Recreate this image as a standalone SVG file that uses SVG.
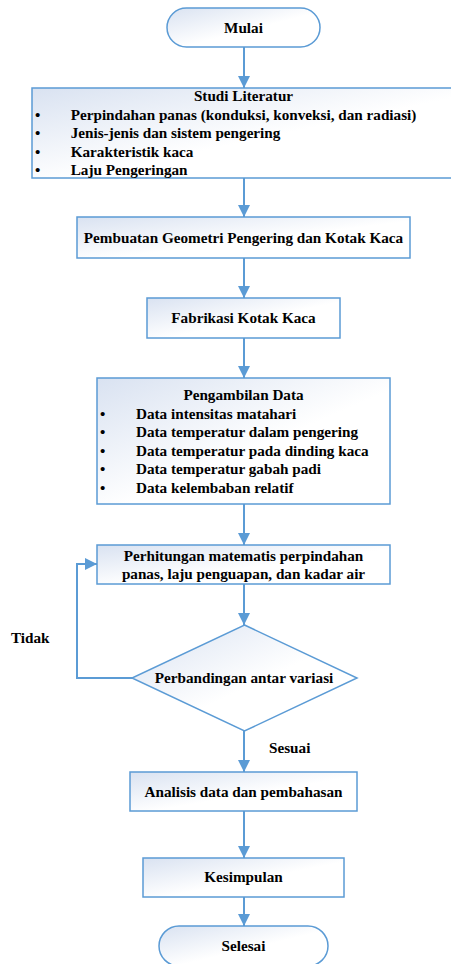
<svg xmlns="http://www.w3.org/2000/svg" width="451" height="964" viewBox="0 0 451 964">
<defs>
<linearGradient id="g" x1="0" y1="0" x2="1" y2="1">
<stop offset="0" stop-color="#d9e2f1"/>
<stop offset="0.55" stop-color="#ffffff"/>
<stop offset="1" stop-color="#ffffff"/>
</linearGradient>
<marker id="ah" markerUnits="userSpaceOnUse" markerWidth="14" markerHeight="14" viewBox="0 0 14 14" refX="13" refY="7" orient="auto">
<path d="M1,1 L13,7 L1,13 Z" fill="#5b9bd5"/>
</marker>
<style>
.n{fill:url(#g);stroke:#5b9bd5;stroke-width:1.5}
.c{fill:none;stroke:#5b9bd5;stroke-width:2;marker-end:url(#ah)}
.t{font-family:'Liberation Serif';font-weight:bold;font-size:15.2px}
.m{text-anchor:middle}
</style>
</defs>
<g font-family="Liberation Serif" font-weight="bold" font-size="15.2">
<g id="connectors">
<line class="c" x1="244" y1="47" x2="244" y2="88"/>
<line class="c" x1="244" y1="178" x2="244" y2="217"/>
<line class="c" x1="244" y1="258" x2="244" y2="298"/>
<line class="c" x1="244" y1="338" x2="244" y2="378"/>
<line class="c" x1="244" y1="504" x2="244" y2="545"/>
<line class="c" x1="244" y1="584" x2="244" y2="625"/>
<line class="c" x1="244" y1="731" x2="244" y2="772"/>
<line class="c" x1="244" y1="811" x2="244" y2="858"/>
<line class="c" x1="244" y1="897" x2="244" y2="926"/>
<polyline class="c" points="132,678 77,678 77,564 97,564"/>
<text class="t" x="11" y="643">Tidak</text>
<text class="t" x="269" y="753">Sesuai</text>
</g>
<g id="mulai">
<rect class="n" x="167" y="8" width="153" height="39" rx="19.5"/>
<text class="t m" x="243.5" y="32.5">Mulai</text>
</g>
<g id="studi">
<rect class="n" x="32" y="88" width="425" height="90"/>
<text class="t m" x="243.5" y="101">Studi Literatur</text>
<text class="t" x="35" y="119.5">•</text><text class="t" x="70.7" y="119.5">Perpindahan panas (konduksi, konveksi, dan radiasi)</text>
<text class="t" x="35" y="138">•</text><text class="t" x="70.7" y="138">Jenis-jenis dan sistem pengering</text>
<text class="t" x="35" y="156.5">•</text><text class="t" x="70.7" y="156.5">Karakteristik kaca</text>
<text class="t" x="35" y="175">•</text><text class="t" x="70.7" y="175">Laju Pengeringan</text>
</g>
<g id="pembuatan">
<rect class="n" x="77" y="217" width="333" height="41"/>
<text class="t m" x="243.5" y="243">Pembuatan Geometri Pengering dan Kotak Kaca</text>
</g>
<g id="fabrikasi">
<rect class="n" x="147" y="298" width="193" height="40"/>
<text class="t m" x="243.5" y="323">Fabrikasi Kotak Kaca</text>
</g>
<g id="pengambilan">
<rect class="n" x="97" y="378" width="293" height="126"/>
<text class="t m" x="243.5" y="400">Pengambilan Data</text>
<text class="t" x="100" y="418.5">•</text><text class="t" x="136" y="418.5">Data intensitas matahari</text>
<text class="t" x="100" y="437">•</text><text class="t" x="136" y="437">Data temperatur dalam pengering</text>
<text class="t" x="100" y="455.5">•</text><text class="t" x="136" y="455.5">Data temperatur pada dinding kaca</text>
<text class="t" x="100" y="474">•</text><text class="t" x="136" y="474">Data temperatur gabah padi</text>
<text class="t" x="100" y="492.5">•</text><text class="t" x="136" y="492.5">Data kelembaban relatif</text>
</g>
<g id="perhitungan">
<rect class="n" x="97" y="545" width="293" height="39"/>
<text class="t m" x="243.5" y="561">Perhitungan matematis perpindahan</text>
<text class="t m" x="243.5" y="578.5">panas, laju penguapan, dan kadar air</text>
</g>
<g id="perbandingan">
<polygon class="n" points="244.5,625 357,678 244.5,731 132,678"/>
<text class="t m" x="244" y="683">Perbandingan antar variasi</text>
</g>
<g id="analisis">
<rect class="n" x="130" y="772" width="227" height="39"/>
<text class="t m" x="243.5" y="797">Analisis data dan pembahasan</text>
</g>
<g id="kesimpulan">
<rect class="n" x="143" y="858" width="201" height="39"/>
<text class="t m" x="243.5" y="882">Kesimpulan</text>
</g>
<g id="selesai">
<rect class="n" x="159" y="926" width="169" height="40" rx="20"/>
<text class="t m" x="243.5" y="951">Selesai</text>
</g>
</g>
</svg>
